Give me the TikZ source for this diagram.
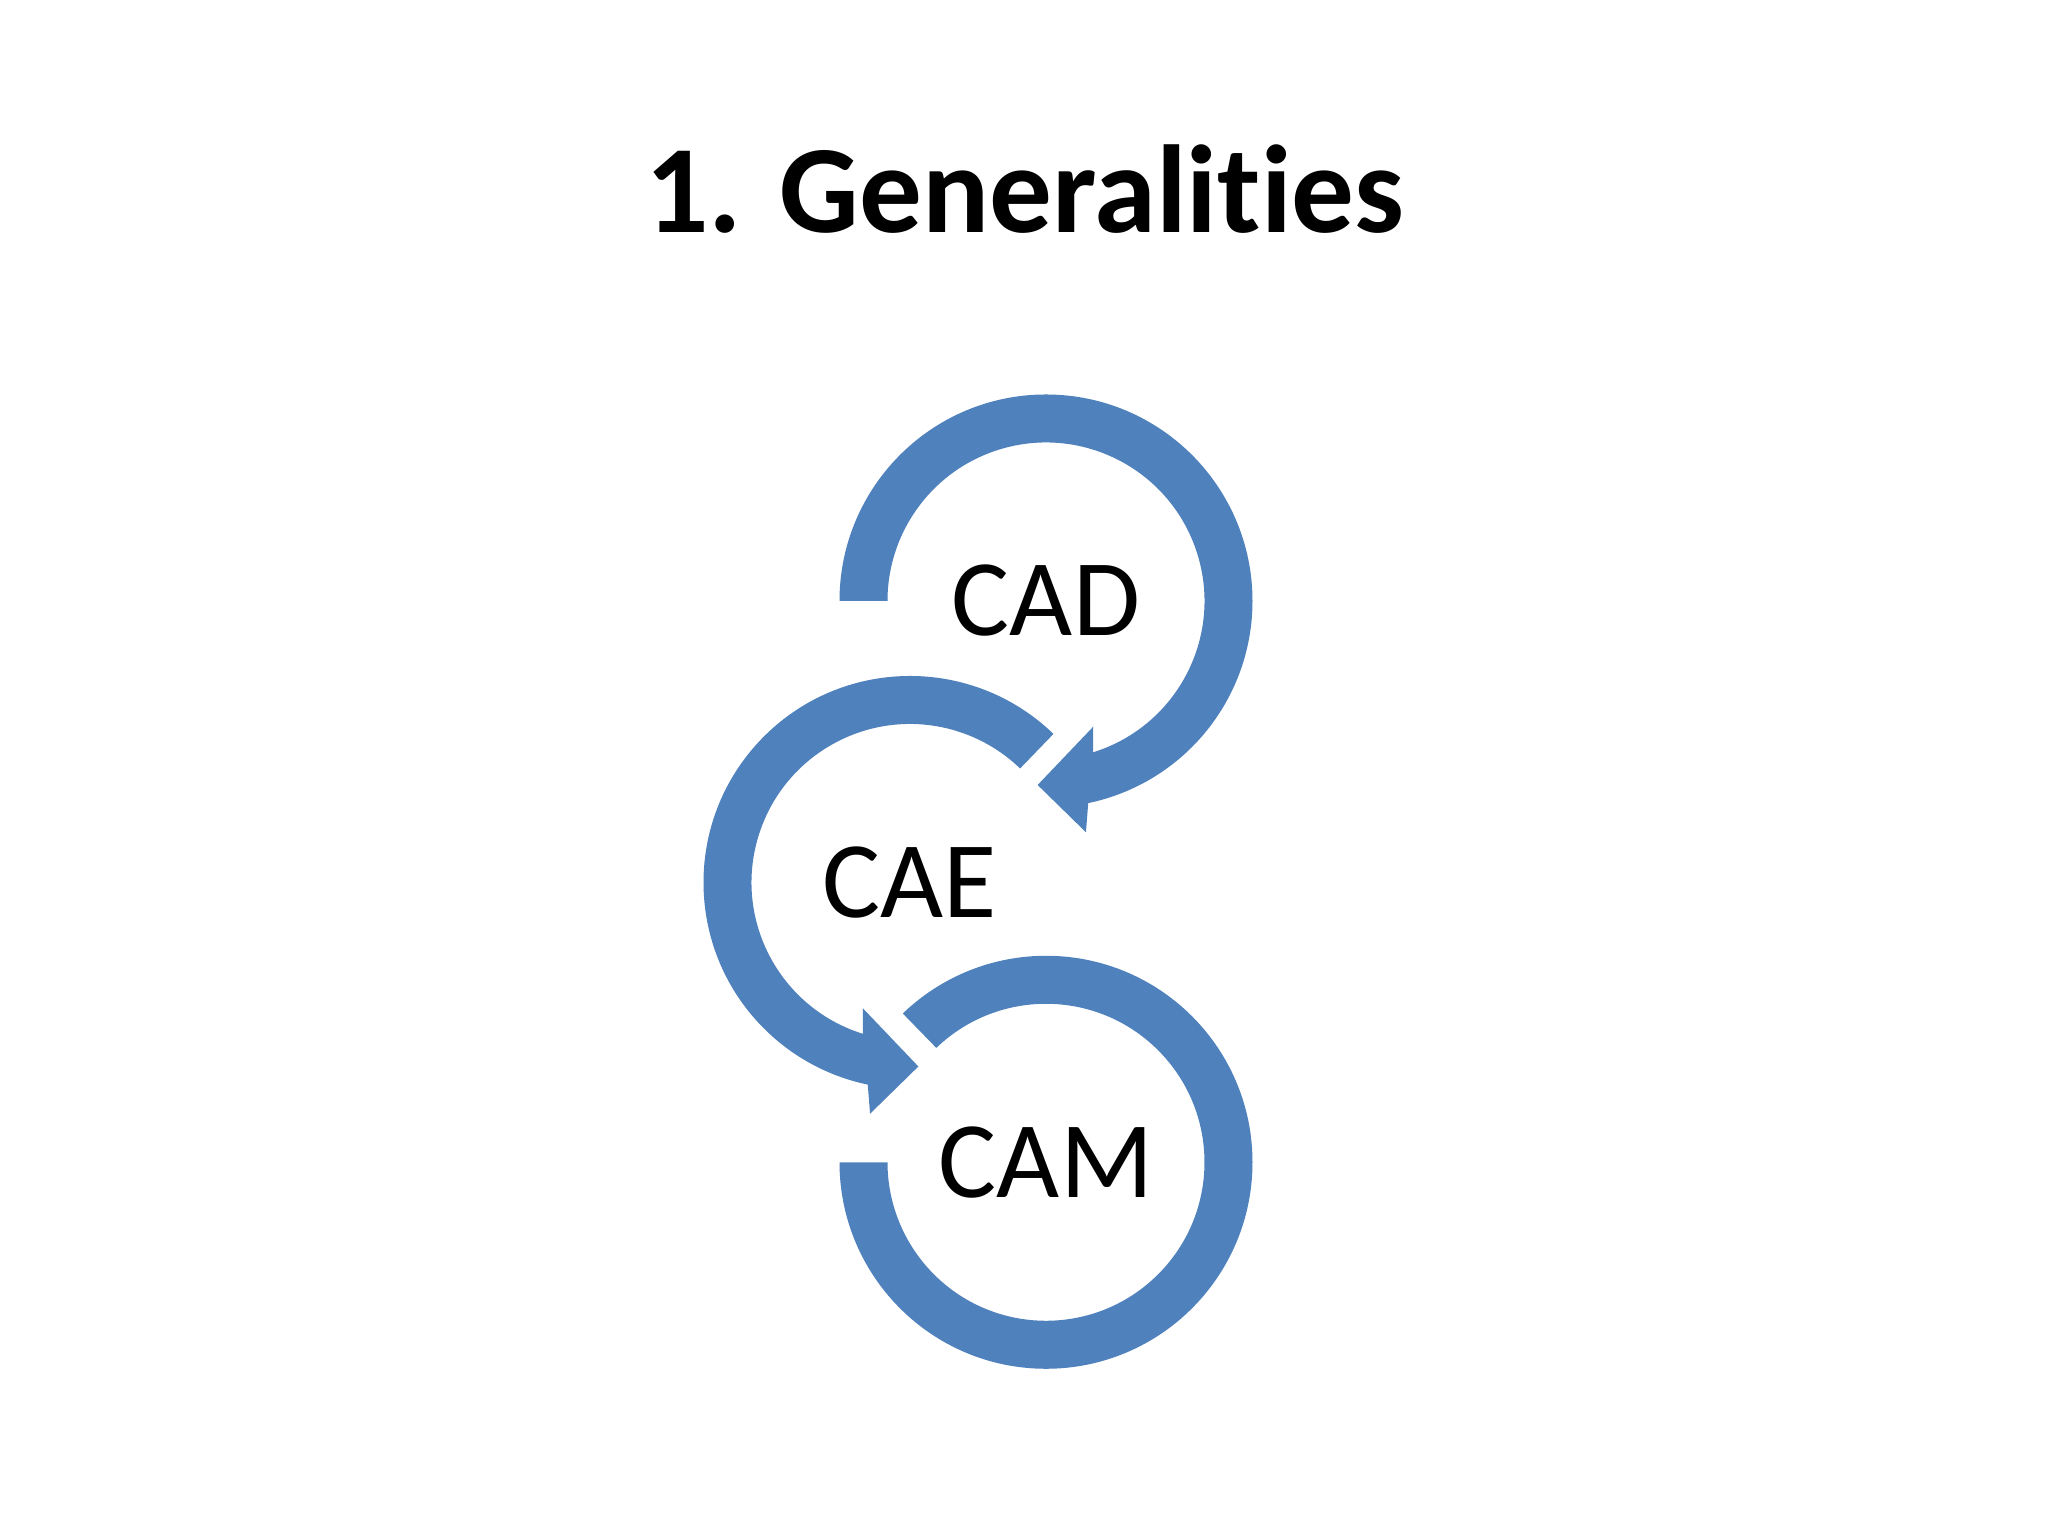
\documentclass[tikz,border=0pt]{standalone}
\usepackage{fontspec}
\setmainfont{Carlito}[Ligatures={NoCommon,TeX}]
\definecolor{arrowblue}{HTML}{4F81BD}
\begin{document}
\begin{tikzpicture}[
  band/.style={fill=arrowblue, draw=none},
  label/.style={font=\fontsize{31}{36}\selectfont, inner sep=0pt, anchor=center},
  titletext/.style={font=\bfseries\fontsize{35.6}{42}\selectfont, inner sep=0pt, anchor=base}
]
\useasboundingbox[fill=white] (0,0) rectangle (20.48,15.36);

\node[titletext] (title) at (10.25,13.035) {1. Generalities};

% CAD circular arrow
\begin{scope}[shift={(10.46,9.35)}]
  \fill[band] (180:2.065cm) arc[start angle=180, end angle=-78.2, radius=2.065cm]
    -- (-80.2:2.347cm) -- (-92.6:1.842cm) -- (-69.4:1.343cm) -- (-72.7:1.585cm)
    arc[start angle=-72.7, end angle=180, radius=1.585cm] -- cycle;
\end{scope}
\node[label] (cad) at (10.46,9.35) {CAD};

% CAE circular arrow
\begin{scope}[shift={(9.10,6.535)}]
  \fill[band] (46:2.065cm) arc[start angle=46, end angle=258.2, radius=2.065cm]
    -- (260.2:2.347cm) -- (272.6:1.842cm) -- (249.4:1.343cm) -- (252.7:1.585cm)
    arc[start angle=252.7, end angle=46, radius=1.585cm] -- cycle;
\end{scope}
\node[label] (cae) at (9.10,6.535) {CAE};

% CAM ring
\begin{scope}[shift={(10.46,3.737)}]
  \fill[band] (180:2.065cm) arc[start angle=180, end angle=493.9, radius=2.065cm]
    -- (493.8:1.585cm)
    arc[start angle=493.8, end angle=180, radius=1.585cm] -- cycle;
\end{scope}
\node[label] (cam) at (10.46,3.737) {CAM};
\end{tikzpicture}
\end{document}
